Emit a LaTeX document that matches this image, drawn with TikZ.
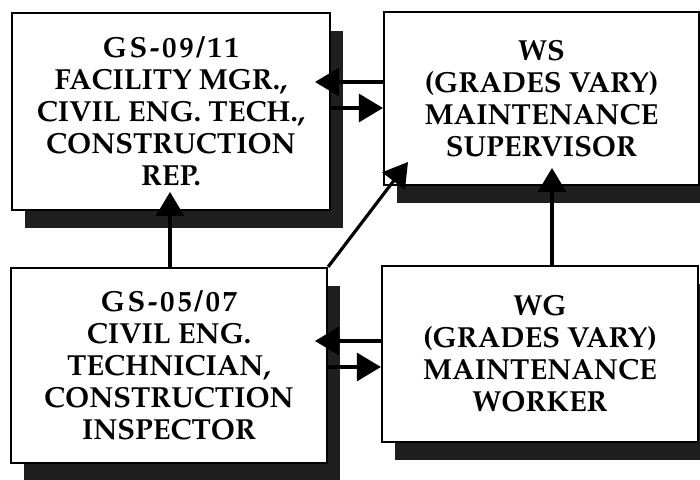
\documentclass[tikz,border=0pt]{standalone}
\usepackage[T1]{fontenc}
\usepackage{mathpazo}
\usetikzlibrary{arrows.meta,shadows}
\tikzset{
  box/.style={draw=black, line width=2.2pt, fill=white, align=center,
    font=\fontsize{29}{32}\selectfont\bfseries,
    drop shadow={shadow xshift=13pt, shadow yshift=-18pt, fill=black!88, opacity=1}},
  arr/.style={line width=3.2pt, -{Triangle[length=24pt 0 0,width=28pt 0 0]}},
}
\newcommand\gsspace{\kern2.6pt}
\begin{document}
\begin{tikzpicture}[x=1pt,y=1pt]
\useasboundingbox (0,0) rectangle (700,479);
\node[box, minimum width=318pt, minimum height=197pt] (b1) at (171,367.5)
  {G\gsspace S\gsspace -\gsspace 0\gsspace 9\gsspace /\gsspace 1\gsspace 1\\FACILITY MGR.,\\CIVIL ENG. TECH.,\\CONSTRUCTION\\REP.};
\node[box, minimum width=315pt, minimum height=173pt] (b2) at (541.5,380.5)
  {WS\\(GRADES VARY)\\MAINTENANCE\\SUPERVISOR};
\node[box, minimum width=316pt, minimum height=195pt] (b3) at (169,113.5)
  {G\gsspace S\gsspace -\gsspace 0\gsspace 5\gsspace /\gsspace 0\gsspace 7\\CIVIL ENG.\\TECHNICIAN,\\CONSTRUCTION\\INSPECTOR};
\node[box, minimum width=316pt, minimum height=176pt] (b4) at (540,125)
  {WG\\(GRADES VARY)\\MAINTENANCE\\WORKER};
\coordinate (t1) at (315,397);
\coordinate (t2) at (384,371);
\coordinate (t3) at (170,287);
\coordinate (t4) at (408,317);
\coordinate (t5) at (552,311);
\coordinate (t6) at (315,138);
\coordinate (t7) at (382,112);
\draw[arr] (t1 -| b2.west) -- (t1);
\draw[arr] (t2 -| b1.east) -- (t2 -| b2.west);
\draw[arr] (t3 |- b3.north) -- (t3);
\draw[arr] (b3.north east) -- (t4);
\draw[arr] (t5 |- b4.north) -- (t5);
\draw[arr] (t6 -| b4.west) -- (t6);
\draw[arr] (t7 -| b3.east) -- (t7 -| b4.west);
\end{tikzpicture}
\end{document}
